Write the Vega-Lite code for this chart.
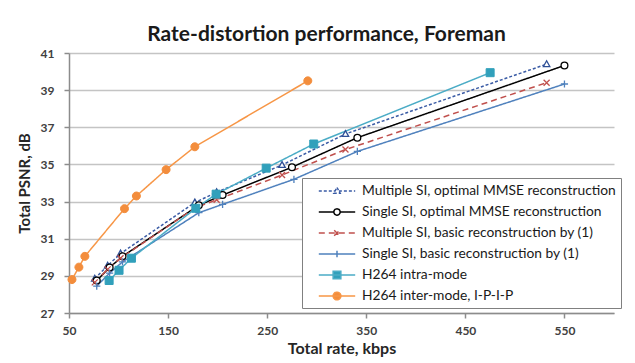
{
  "$schema": "https://vega.github.io/schema/vega-lite/v6.json",
  "width": 545,
  "height": 260,
  "autosize": {"type": "none"},
  "padding": {"left": 69, "top": 53, "right": 21, "bottom": 50},
  "background": "white",
  "title": {
    "text": "Rate-distortion performance, Foreman",
    "font": "Lato", "fontSize": 21, "fontWeight": "bold", "color": "#1a1a1a",
    "anchor": "middle", "dx": -15, "offset": 2
  },
  "config": {"view": {"stroke": null}},
  "data": {
    "values": [
      {"series": "Multiple SI, optimal MMSE reconstruction", "rate": 76, "psnr": 28.85},
      {"series": "Multiple SI, optimal MMSE reconstruction", "rate": 89, "psnr": 29.55},
      {"series": "Multiple SI, optimal MMSE reconstruction", "rate": 102, "psnr": 30.2},
      {"series": "Multiple SI, optimal MMSE reconstruction", "rate": 177, "psnr": 32.95},
      {"series": "Multiple SI, optimal MMSE reconstruction", "rate": 199, "psnr": 33.5},
      {"series": "Multiple SI, optimal MMSE reconstruction", "rate": 265, "psnr": 34.97},
      {"series": "Multiple SI, optimal MMSE reconstruction", "rate": 329, "psnr": 36.64},
      {"series": "Multiple SI, optimal MMSE reconstruction", "rate": 532, "psnr": 40.4},
      {"series": "Single SI, optimal MMSE reconstruction", "rate": 78, "psnr": 28.75},
      {"series": "Single SI, optimal MMSE reconstruction", "rate": 91, "psnr": 29.45},
      {"series": "Single SI, optimal MMSE reconstruction", "rate": 104, "psnr": 30.05},
      {"series": "Single SI, optimal MMSE reconstruction", "rate": 181, "psnr": 32.8},
      {"series": "Single SI, optimal MMSE reconstruction", "rate": 205, "psnr": 33.35},
      {"series": "Single SI, optimal MMSE reconstruction", "rate": 275, "psnr": 34.85},
      {"series": "Single SI, optimal MMSE reconstruction", "rate": 341, "psnr": 36.44},
      {"series": "Single SI, optimal MMSE reconstruction", "rate": 550, "psnr": 40.33},
      {"series": "Multiple SI, basic reconstruction by (1)", "rate": 76, "psnr": 28.65},
      {"series": "Multiple SI, basic reconstruction by (1)", "rate": 89, "psnr": 29.35},
      {"series": "Multiple SI, basic reconstruction by (1)", "rate": 102, "psnr": 29.95},
      {"series": "Multiple SI, basic reconstruction by (1)", "rate": 177, "psnr": 32.65},
      {"series": "Multiple SI, basic reconstruction by (1)", "rate": 199, "psnr": 33.1},
      {"series": "Multiple SI, basic reconstruction by (1)", "rate": 265, "psnr": 34.43},
      {"series": "Multiple SI, basic reconstruction by (1)", "rate": 329, "psnr": 35.8},
      {"series": "Multiple SI, basic reconstruction by (1)", "rate": 532, "psnr": 39.4},
      {"series": "Single SI, basic reconstruction by (1)", "rate": 78, "psnr": 28.45},
      {"series": "Single SI, basic reconstruction by (1)", "rate": 91, "psnr": 29.15},
      {"series": "Single SI, basic reconstruction by (1)", "rate": 104, "psnr": 29.75},
      {"series": "Single SI, basic reconstruction by (1)", "rate": 181, "psnr": 32.4},
      {"series": "Single SI, basic reconstruction by (1)", "rate": 205, "psnr": 32.85},
      {"series": "Single SI, basic reconstruction by (1)", "rate": 277, "psnr": 34.2},
      {"series": "Single SI, basic reconstruction by (1)", "rate": 341, "psnr": 35.7},
      {"series": "Single SI, basic reconstruction by (1)", "rate": 550, "psnr": 39.33},
      {"series": "H264 intra-mode", "rate": 90.5, "psnr": 28.75},
      {"series": "H264 intra-mode", "rate": 100.5, "psnr": 29.3},
      {"series": "H264 intra-mode", "rate": 113, "psnr": 29.95},
      {"series": "H264 intra-mode", "rate": 178, "psnr": 32.64},
      {"series": "H264 intra-mode", "rate": 198.5, "psnr": 33.4},
      {"series": "H264 intra-mode", "rate": 249, "psnr": 34.8},
      {"series": "H264 intra-mode", "rate": 297, "psnr": 36.1},
      {"series": "H264 intra-mode", "rate": 475, "psnr": 39.94},
      {"series": "H264 inter-mode, I-P-I-P", "rate": 53, "psnr": 28.8},
      {"series": "H264 inter-mode, I-P-I-P", "rate": 60, "psnr": 29.47},
      {"series": "H264 inter-mode, I-P-I-P", "rate": 66, "psnr": 30.05},
      {"series": "H264 inter-mode, I-P-I-P", "rate": 106, "psnr": 32.62},
      {"series": "H264 inter-mode, I-P-I-P", "rate": 118, "psnr": 33.3},
      {"series": "H264 inter-mode, I-P-I-P", "rate": 148, "psnr": 34.72},
      {"series": "H264 inter-mode, I-P-I-P", "rate": 177, "psnr": 35.95},
      {"series": "H264 inter-mode, I-P-I-P", "rate": 291, "psnr": 39.5}
    ]
  },
  "encoding": {
    "x": {
      "field": "rate", "type": "quantitative",
      "scale": {"domain": [50, 600], "nice": false, "zero": false},
      "axis": {
        "title": "Total rate, kbps", "values": [50, 150, 250, 350, 450, 550], "grid": false,
        "domainColor": "#8c8c8c", "domainWidth": 1.5, "tickColor": "#8c8c8c", "tickWidth": 1.5, "tickSize": 5,
        "labelFont": "Lato", "labelFontSize": 12, "labelFontWeight": "bold", "labelColor": "#404040", "labelPadding": 7, "labelFlush": false,
        "titleFont": "Lato", "titleFontSize": 16, "titleFontWeight": "bold", "titleColor": "#262626", "titlePadding": 4
      }
    },
    "y": {
      "field": "psnr", "type": "quantitative",
      "scale": {"domain": [27, 41], "nice": false, "zero": false},
      "axis": {
        "title": "Total PSNR, dB", "values": [27, 29, 31, 33, 35, 37, 39, 41], "grid": true,
        "gridColor": "#c4c4c4", "gridWidth": 1.5,
        "domainColor": "#8c8c8c", "domainWidth": 1.5, "tickColor": "#8c8c8c", "tickWidth": 1.5, "tickSize": 5,
        "labelFont": "Lato", "labelFontSize": 12, "labelFontWeight": "bold", "labelColor": "#404040", "labelPadding": 10,
        "titleFont": "Lato", "titleFontSize": 15, "titleFontWeight": "bold", "titleColor": "#262626", "titlePadding": 8
      }
    }
  },
  "layer": [
    {
      "mark": {"type": "line", "strokeWidth": 1.5},
      "encoding": {
        "color": {
          "field": "series", "type": "nominal",
          "scale": {
            "domain": ["Multiple SI, optimal MMSE reconstruction", "Single SI, optimal MMSE reconstruction", "Multiple SI, basic reconstruction by (1)", "Single SI, basic reconstruction by (1)", "H264 intra-mode", "H264 inter-mode, I-P-I-P"],
            "range": ["#3a5ba5", "#000000", "#c0504d", "#4f81bd", "#4bacc6", "#f79646"]
          },
          "legend": {
            "title": null, "orient": "none", "legendX": 233, "legendY": 125,
            "strokeColor": "#808080", "fillColor": "white", "padding": 5,
            "symbolSize": 196, "symbolOffset": 22, "labelOffset": 17, "rowPadding": 6, "symbolStrokeWidth": 1.5,
            "labelFont": "Lato", "labelFontSize": 13.8, "labelColor": "#1a1a1a", "labelLimit": 400,
            "encode": {
              "symbols": {
                "update": {
                  "shape": {"signal": "['M-2.6,0H-0.27M0.27,0H2.6M0,-0.5L0.45,0.33L-0.45,0.33Z','M-2.6,0H-0.45M0.45,0H2.6M0.45,0A0.45,0.45,0,1,1,-0.45,0A0.45,0.45,0,1,1,0.45,0Z','M-2.6,0H2.6M-0.4,-0.4L0.4,0.4M-0.4,0.4L0.4,-0.4','M-2.6,0H2.6M0,-0.45V0.45','M-2.6,0H2.6M-0.55,-0.55H0.55V0.55H-0.55Z','M-2.6,0H2.6M0.55,0A0.55,0.55,0,1,1,-0.55,0A0.55,0.55,0,1,1,0.55,0Z'][indexof(['Multiple SI, optimal MMSE reconstruction','Single SI, optimal MMSE reconstruction','Multiple SI, basic reconstruction by (1)','Single SI, basic reconstruction by (1)','H264 intra-mode','H264 inter-mode, I-P-I-P'], datum.value)]"},
                  "fill": {"signal": "['white','white','transparent','transparent','#31a0bb','#f38d3c'][indexof(['Multiple SI, optimal MMSE reconstruction','Single SI, optimal MMSE reconstruction','Multiple SI, basic reconstruction by (1)','Single SI, basic reconstruction by (1)','H264 intra-mode','H264 inter-mode, I-P-I-P'], datum.value)]"},
                  "stroke": {"signal": "['#3a5ba5','#000000','#c0504d','#4f81bd','#4bacc6','#f79646'][indexof(['Multiple SI, optimal MMSE reconstruction','Single SI, optimal MMSE reconstruction','Multiple SI, basic reconstruction by (1)','Single SI, basic reconstruction by (1)','H264 intra-mode','H264 inter-mode, I-P-I-P'], datum.value)]"},
                  "strokeDash": {"signal": "[[3,2],[1,0],[5,3],[1,0],[1,0],[1,0]][indexof(['Multiple SI, optimal MMSE reconstruction','Single SI, optimal MMSE reconstruction','Multiple SI, basic reconstruction by (1)','Single SI, basic reconstruction by (1)','H264 intra-mode','H264 inter-mode, I-P-I-P'], datum.value)]"}
                }
              }
            }
          }
        },
        "strokeDash": {
          "field": "series", "type": "nominal",
          "scale": {
            "domain": ["Multiple SI, optimal MMSE reconstruction", "Single SI, optimal MMSE reconstruction", "Multiple SI, basic reconstruction by (1)", "Single SI, basic reconstruction by (1)", "H264 intra-mode", "H264 inter-mode, I-P-I-P"],
            "range": [[3, 2], [1, 0], [6, 4], [1, 0], [1, 0], [1, 0]]
          },
          "legend": null
        }
      }
    },
    {
      "transform": [{"filter": {"field": "series", "equal": "Multiple SI, optimal MMSE reconstruction"}}],
      "mark": {"type": "point", "shape": "M0,-0.85L0.8,0.6L-0.8,0.6Z", "size": 64, "fill": "white", "stroke": "#2e4f96", "strokeWidth": 1.3, "opacity": 1}
    },
    {
      "transform": [{"filter": {"field": "series", "equal": "Single SI, optimal MMSE reconstruction"}}],
      "mark": {"type": "point", "shape": "M0.85,0A0.85,0.85,0,1,1,-0.85,0A0.85,0.85,0,1,1,0.85,0Z", "size": 64, "fill": "white", "stroke": "#000000", "strokeWidth": 1.3, "opacity": 1}
    },
    {
      "transform": [{"filter": {"field": "series", "equal": "Multiple SI, basic reconstruction by (1)"}}],
      "mark": {"type": "point", "shape": "M-0.75,-0.75L0.75,0.75M-0.75,0.75L0.75,-0.75", "size": 64, "fill": "transparent", "stroke": "#c0504d", "strokeWidth": 1.3, "opacity": 1}
    },
    {
      "transform": [{"filter": {"field": "series", "equal": "Single SI, basic reconstruction by (1)"}}],
      "mark": {"type": "point", "shape": "M-0.9,0H0.9M0,-0.9V0.9", "size": 64, "fill": "transparent", "stroke": "#4f81bd", "strokeWidth": 1.3, "opacity": 1}
    },
    {
      "transform": [{"filter": {"field": "series", "equal": "H264 intra-mode"}}],
      "mark": {"type": "point", "shape": "M-1,-1H1V1H-1Z", "size": 64, "fill": "#31a0bb", "stroke": "#31a0bb", "strokeWidth": 1, "opacity": 1}
    },
    {
      "transform": [{"filter": {"field": "series", "equal": "H264 inter-mode, I-P-I-P"}}],
      "mark": {"type": "point", "shape": "M1,0A1,1,0,1,1,-1,0A1,1,0,1,1,1,0Z", "size": 64, "fill": "#f38d3c", "stroke": "#f38d3c", "strokeWidth": 1, "opacity": 1}
    }
  ]
}
